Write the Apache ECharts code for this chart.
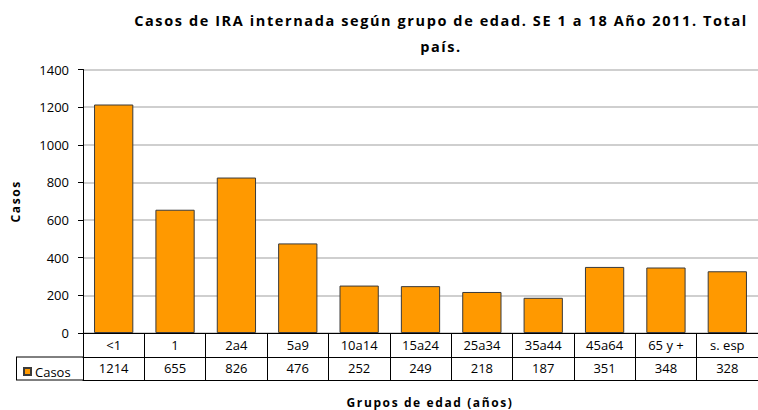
<!DOCTYPE html>
<html>
<head>
<meta charset="utf-8">
<script src="https://cdn.jsdelivr.net/npm/echarts@6/dist/echarts.min.js"></script>
<style>
html,body{margin:0;padding:0;background:#fff}
#c{width:758px;height:410px}
#c svg text[style*="bold"]{letter-spacing:1.6px}
</style>
</head>
<body>
<div id="c"></div>
<script>
const categories = ['<1', '1', '2a4', '5a9', '10a14', '15a24', '25a34', '35a44', '45a64', '65 y +', 's. esp'];
const casos = [1214, 655, 826, 476, 252, 249, 218, 187, 351, 348, 328];
const yTicks = { min: 0, max: 1400, interval: 200 };
const seriesName = 'Casos';
const titleLines = ['Casos de IRA internada según grupo de edad. SE 1 a 18 Año 2011. Total', 'país.'];
const yName = 'Casos';
const xName = 'Grupos de edad (años)';

const FONT = 'Open Sans';
const chart = echarts.init(document.getElementById('c'), null, { renderer: 'svg' });
const GL = 83, GT = 69.5, GB = 77;
chart.setOption({
  animation: false,
  backgroundColor: '#fff',
  textStyle: { fontFamily: FONT },
  grid: { left: GL, right: 0, top: GT, bottom: GB, containLabel: false },
  legend: {
    data: [seriesName], left: 18, top: 360, icon: 'rect', itemWidth: 7, itemHeight: 7, itemGap: 4,
    textStyle: { fontFamily: FONT, fontSize: 13, color: '#000', padding: [0, 0, 0, -1] }
  },
  xAxis: [
    {
      type: 'category', data: categories, position: 'bottom',
      axisLine: { lineStyle: { color: '#000', width: 1 } },
      axisTick: { show: true, length: 47, interval: 0, lineStyle: { color: '#000' } },
      axisLabel: { interval: 0, margin: 5, fontSize: 13, color: '#000', fontFamily: FONT }
    },
    {
      type: 'category', data: casos.map(String), position: 'bottom', offset: 24,
      axisLine: { show: true, lineStyle: { color: '#000', width: 1 } },
      axisTick: { show: false },
      axisLabel: { interval: 0, margin: 4, fontSize: 13, color: '#000', fontFamily: FONT }
    },
    {
      type: 'category', data: categories, position: 'bottom', offset: 47,
      axisLine: { show: true, lineStyle: { color: '#000', width: 1 } },
      axisTick: { show: false }, axisLabel: { show: false }
    }
  ],
  yAxis: {
    type: 'value', min: yTicks.min, max: yTicks.max, interval: yTicks.interval,
    name: yName, nameLocation: 'middle', nameGap: 62, nameRotate: 90,
    nameTextStyle: { fontFamily: FONT, fontSize: 12, fontWeight: 'bold', color: '#000' },
    axisLine: { show: true, lineStyle: { color: '#000', width: 1 } },
    axisTick: { show: true, length: 5, lineStyle: { color: '#000' } },
    axisLabel: { fontSize: 13, color: '#000', margin: 14, fontFamily: FONT, formatter: v => String(v) },
    splitLine: { lineStyle: { color: '#bfbfbf', width: 1.5 } }
  },
  series: [{
    name: seriesName, type: 'bar', data: casos, xAxisIndex: 0,
    barWidth: '64%',
    itemStyle: { color: '#FF9900', borderColor: '#3a3a3a', borderWidth: 1 }
  }],
  graphic: [
    { type: 'text', x: 441, y: 13, style: { text: titleLines[0], font: 'bold 14.5px "' + FONT + '"', fill: '#000', textAlign: 'center' } },
    { type: 'text', x: 441, y: 39, style: { text: titleLines[1], font: 'bold 14.5px "' + FONT + '"', fill: '#000', textAlign: 'center' } },
    { type: 'text', x: 430, y: 396, style: { text: xName, font: 'bold 12px "' + FONT + '"', fill: '#000', textAlign: 'center' } },
    { type: 'line', shape: { x1: 16, y1: 357, x2: GL, y2: 357 }, style: { stroke: '#000', lineWidth: 1 } },
    { type: 'line', shape: { x1: 16, y1: 380, x2: GL, y2: 380 }, style: { stroke: '#000', lineWidth: 1 } },
    { type: 'line', shape: { x1: 16.5, y1: 357, x2: 16.5, y2: 380 }, style: { stroke: '#000', lineWidth: 1 } }
  ]
});
</script>
</body>
</html>
